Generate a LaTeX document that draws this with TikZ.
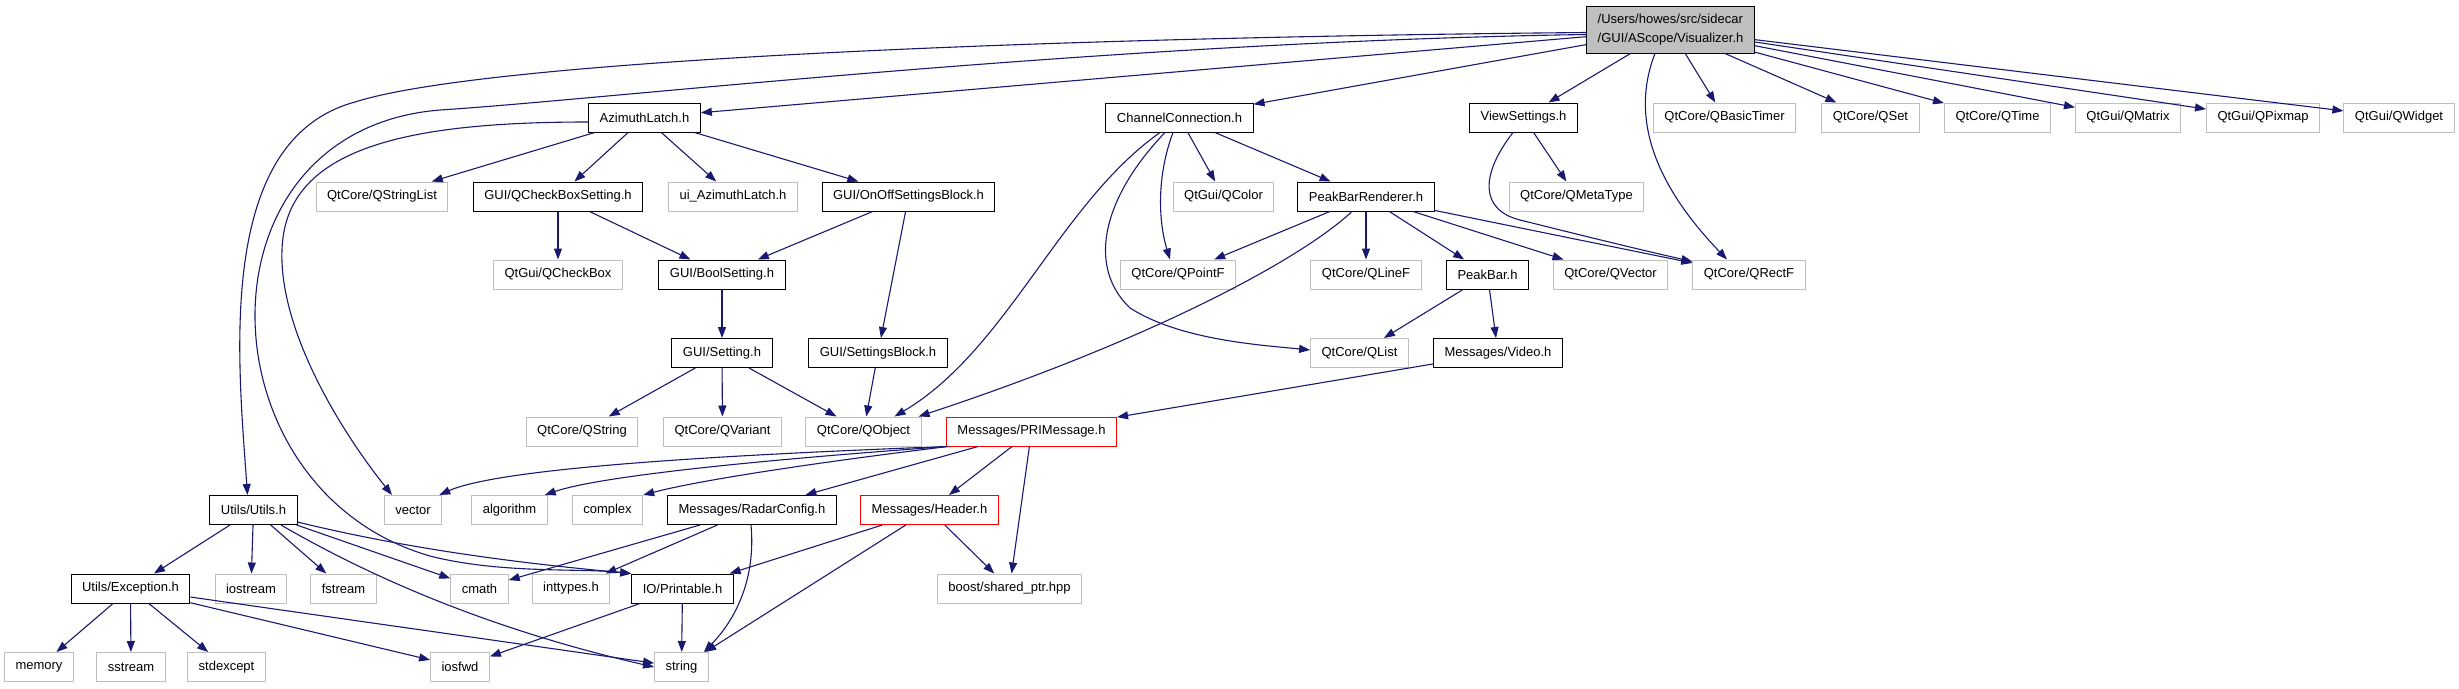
\documentclass[tikz,border=0pt]{standalone}
\usepackage{fontspec}
\setmainfont{Liberation Sans}
\usetikzlibrary{arrows.meta}
\definecolor{incblue}{HTML}{191970}
\definecolor{incgrey}{HTML}{BFBFBF}
\tikzset{
  incnode/.style={
    rectangle, draw=black, fill=white, line width=1pt,
    minimum height=29pt, inner xsep=11pt, inner ysep=0pt,
    font=\fontsize{13}{15}\selectfont
  },
  incdoc/.style={incnode},
  incext/.style={incnode,draw=incgrey},
  incerr/.style={incnode,draw=red},
  incroot/.style={incnode,fill=incgrey,minimum height=47pt,align=left,
    font=\fontsize{13}{19}\selectfont},
  incedge/.style={-{Triangle[length=11pt,width=8pt]},draw=incblue,line width=1.1pt}
}
\begin{document}
\begin{tikzpicture}[x=1pt,y=-1pt]
  \useasboundingbox (0,0) rectangle (2459,688);
  \node[incroot] (vis) at (1670.5,29.5) {/Users/howes/src/sidecar\\/GUI/AScope/Visualizer.h};

  \node[incdoc] (azl) at (644.5,117.5) {AzimuthLatch.h};
  \node[incdoc] (cc) at (1179.5,117.5) {ChannelConnection.h};
  \node[incdoc] (vs) at (1523.5,117.5) {ViewSettings.h};
  \node[incext] (qbt) at (1724.5,117.5) {QtCore/QBasicTimer};
  \node[incext] (qset) at (1870.5,117.5) {QtCore/QSet};
  \node[incext] (qtime) at (1997.5,117.5) {QtCore/QTime};
  \node[incext] (qmat) at (2128,117.5) {QtGui/QMatrix};
  \node[incext] (qpix) at (2263,117.5) {QtGui/QPixmap};
  \node[incext] (qwid) at (2399,117.5) {QtGui/QWidget};

  \node[incext] (qsl) at (382,196.5) {QtCore/QStringList};
  \node[incdoc] (qcbs) at (558,196.5) {GUI/QCheckBoxSetting.h};
  \node[incext] (uiazl) at (733,196.5) {ui\_AzimuthLatch.h};
  \node[incdoc] (onoff) at (908.5,196.5) {GUI/OnOffSettingsBlock.h};
  \node[incext] (qcol) at (1223.5,196.5) {QtGui/QColor};
  \node[incdoc] (pbr) at (1366,196.5) {PeakBarRenderer.h};
  \node[incext] (qmt) at (1576.5,196.5) {QtCore/QMetaType};

  \node[incext] (qcb) at (558,274.5) {QtGui/QCheckBox};
  \node[incdoc] (bool) at (722,274.5) {GUI/BoolSetting.h};
  \node[incext] (qpf) at (1178,274.5) {QtCore/QPointF};
  \node[incext] (qlf) at (1366,274.5) {QtCore/QLineF};
  \node[incdoc] (pb) at (1487.5,274.5) {PeakBar.h};
  \node[incext] (qvec) at (1610.5,274.5) {QtCore/QVector};
  \node[incext] (qrf) at (1749,274.5) {QtCore/QRectF};

  \node[incdoc] (set) at (722,353) {GUI/Setting.h};
  \node[incdoc] (sblk) at (878,353) {GUI/SettingsBlock.h};
  \node[incext] (qlist) at (1359.5,353) {QtCore/QList};
  \node[incdoc] (video) at (1498,353) {Messages/Video.h};

  \node[incext] (qstr) at (582,431.5) {QtCore/QString};
  \node[incext] (qvar) at (722.5,431.5) {QtCore/QVariant};
  \node[incext] (qobj) at (863.5,431.5) {QtCore/QObject};
  \node[incerr] (pri) at (1031.5,431.5) {Messages/PRIMessage.h};

  \node[incdoc] (utils) at (253.5,510) {Utils/Utils.h};
  \node[incext] (vec) at (413,510) {vector};
  \node[incext] (alg) at (509.5,510) {algorithm};
  \node[incext] (cx) at (607.5,510) {complex};
  \node[incdoc] (rc) at (752,510) {Messages/RadarConfig.h};
  \node[incerr] (hdr) at (929.5,510) {Messages/Header.h};

  \node[incdoc] (exc) at (130.5,588.5) {Utils/Exception.h};
  \node[incext] (iostr) at (251,588.5) {iostream};
  \node[incext] (fstr) at (343.5,588.5) {fstream};
  \node[incext] (cmath) at (479.5,588.5) {cmath};
  \node[incext] (intt) at (571,588.5) {inttypes.h};
  \node[incdoc] (io) at (682.5,588.5) {IO/Printable.h};
  \node[incext] (boost) at (1009.5,588.5) {boost/shared\_ptr.hpp};

  \node[incext] (mem) at (39,667) {memory};
  \node[incext] (sstr) at (131,667) {sstream};
  \node[incext] (stdx) at (226.5,667) {stdexcept};
  \node[incext] (iosfwd) at (460,667) {iosfwd};
  \node[incext] (str) at (681.5,667) {string};

  \foreach \t in {azl,cc,vs,qbt,qset,qtime,qmat,qpix,qwid}
    \draw[incedge] (vis) -- (\t);
  \draw[incedge] ([xshift=-15.5pt]vis.south) .. controls (1625,130) and (1670,200) .. ([xshift=-22pt]qrf.north);
  \draw[incedge] ([yshift=-3pt]vis.west) .. controls (1000,38) and (480,62) .. (355,102)
    .. controls (215,140) and (238,360) .. ([xshift=-6pt]utils.north);
  \draw[incedge] ([yshift=-5pt]vis.west) .. controls (1100,42) and (600,100) .. (440,110)
    .. controls (190,130) and (200,490) .. (430,556) .. controls (500,574) and (580,568) .. (io.north west);

  \foreach \t in {qsl,qcbs,uiazl,onoff}
    \draw[incedge] (azl) -- (\t);
  \draw[incedge] ([yshift=-4.5pt]azl.west) .. controls (400,122) and (285,150) .. (282,250)
    .. controls (279,330) and (340,430) .. ([xshift=-21pt]vec.north);

  \draw[incedge] (cc) -- (qcol);
  \draw[incedge] (cc) -- (pbr);
  \draw[incedge] ([xshift=-19.5pt]cc.south) .. controls (1059,204) and (1007,350) .. ([xshift=31pt]qobj.north);
  \draw[incedge] ([xshift=-14.5pt]cc.south) .. controls (1105,195) and (1085,265) .. (1130,308)
    .. controls (1180,340) and (1260,345) .. ([yshift=3pt]qlist.west);
  \draw[incedge] ([xshift=-6.5pt]cc.south) .. controls (1157,175) and (1158,220) .. ([xshift=-8pt]qpf.north);

  \foreach \t in {qpf,qlf,pb,qvec,qrf}
    \draw[incedge] (pbr) -- (\t);
  \draw[incedge] ([xshift=-14pt]pbr.south) .. controls (1300,260) and (1150,340) .. ([xshift=-3pt]qobj.north east);

  \draw[incedge] (vs) -- (qmt);
  \draw[incedge] ([xshift=-10.5pt]vs.south) .. controls (1480,175) and (1480,210) .. (1520,220)
    .. controls (1600,240) and (1650,252) .. ([yshift=-2pt]qrf.north west);

  \draw[incedge] (qcbs) -- (qcb);
  \draw[incedge] (qcbs) -- (bool);
  \draw[incedge] (onoff) -- (bool);
  \draw[incedge] (onoff) -- (sblk);
  \draw[incedge] (bool) -- (set);
  \foreach \t in {qstr,qvar,qobj}
    \draw[incedge] (set) -- (\t);
  \draw[incedge] (sblk) -- (qobj);
  \draw[incedge] (pb) -- (qlist);
  \draw[incedge] (pb) -- (video);
  \draw[incedge] (video) -- (pri);

  \draw[incedge] ([xshift=1pt]pri.south west) .. controls (720,455) and (500,468) .. ([xshift=-3pt]vec.north east);
  \draw[incedge] ([xshift=1pt]pri.south west) .. controls (760,460) and (600,476) .. ([xshift=-3pt]alg.north east);
  \draw[incedge] ([xshift=2pt]pri.south west) .. controls (820,462) and (700,480) .. (cx.north east);
  \foreach \t in {rc,hdr,boost}
    \draw[incedge] (pri) -- (\t);

  \foreach \t in {boost,io,str}
    \draw[incedge] (hdr) -- (\t);
  \draw[incedge] (rc) -- (cmath);
  \draw[incedge] (rc) -- (intt);
  \draw[incedge] ([xshift=-1pt]rc.south) .. controls (756,580) and (735,620) .. ([xshift=-5pt]str.north east);

  \foreach \t in {exc,iostr,fstr,cmath}
    \draw[incedge] (utils) -- (\t);
  \draw[incedge] ([yshift=-12pt]utils.east) .. controls (420,552) and (540,565) .. (io.north west);
  \draw[incedge] ([xshift=27.5pt]utils.south) .. controls (350,565) and (470,625) .. (str.west);

  \foreach \t in {mem,sstr,stdx,iosfwd,str}
    \draw[incedge] (exc) -- (\t);
  \draw[incedge] (io) -- (iosfwd);
  \draw[incedge] (io) -- (str);
\end{tikzpicture}
\end{document}
